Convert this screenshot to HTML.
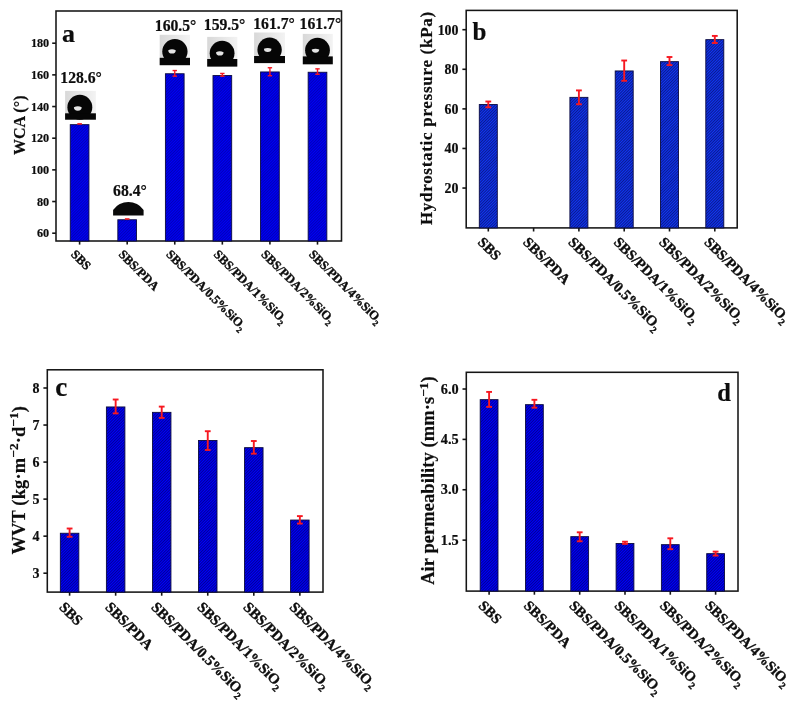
<!DOCTYPE html>
<html><head><meta charset="utf-8"><style>
html,body{margin:0;padding:0;background:#fff;width:795px;height:706px;overflow:hidden}
svg{display:block;will-change:transform}
text{font-family:"Liberation Serif", serif;font-weight:bold;fill:#0d0d0d;stroke:#0d0d0d;stroke-width:0.2px}
</style></head><body>
<svg width="795" height="706" viewBox="0 0 795 706">
<defs>
<pattern id="pa" patternUnits="userSpaceOnUse" width="2" height="2" patternTransform="rotate(45)"><rect width="2" height="2" fill="#0000f8"/><rect x="0" width="0.6" height="2" fill="#000090"/></pattern>
<pattern id="pb" patternUnits="userSpaceOnUse" width="2" height="2" patternTransform="rotate(45)"><rect width="2" height="2" fill="#1236f4"/><rect x="0" width="0.75" height="2" fill="#06126e"/></pattern>
<pattern id="pc" patternUnits="userSpaceOnUse" width="2" height="2" patternTransform="rotate(45)"><rect width="2" height="2" fill="#0000ff"/><rect x="0" width="0.7" height="2" fill="#000068"/></pattern>
<linearGradient id="gbg" x1="0" y1="0" x2="1" y2="0"><stop offset="0" stop-color="#d8d8d8"/><stop offset="1" stop-color="#f3f3f3"/></linearGradient>
<filter id="bl" x="-50%" y="-50%" width="200%" height="200%"><feGaussianBlur stdDeviation="0.6"/></filter><radialGradient id="hl"><stop offset="0" stop-color="#f0f0f0"/><stop offset="0.55" stop-color="#cccccc"/><stop offset="1" stop-color="#202020"/></radialGradient>
</defs>
<rect x="56" y="11" width="285.50" height="230.00" fill="none" stroke="#151515" stroke-width="1.55"/>
<line x1="52.2" y1="233.20" x2="56" y2="233.20" stroke="#151515" stroke-width="1.6"/>
<text x="49.2" y="237.20" font-size="12.2" text-anchor="end">60</text>
<line x1="52.2" y1="201.53" x2="56" y2="201.53" stroke="#151515" stroke-width="1.6"/>
<text x="49.2" y="205.53" font-size="12.2" text-anchor="end">80</text>
<line x1="52.2" y1="169.87" x2="56" y2="169.87" stroke="#151515" stroke-width="1.6"/>
<text x="49.2" y="173.87" font-size="12.2" text-anchor="end">100</text>
<line x1="52.2" y1="138.20" x2="56" y2="138.20" stroke="#151515" stroke-width="1.6"/>
<text x="49.2" y="142.20" font-size="12.2" text-anchor="end">120</text>
<line x1="52.2" y1="106.54" x2="56" y2="106.54" stroke="#151515" stroke-width="1.6"/>
<text x="49.2" y="110.54" font-size="12.2" text-anchor="end">140</text>
<line x1="52.2" y1="74.87" x2="56" y2="74.87" stroke="#151515" stroke-width="1.6"/>
<text x="49.2" y="78.87" font-size="12.2" text-anchor="end">160</text>
<line x1="52.2" y1="43.20" x2="56" y2="43.20" stroke="#151515" stroke-width="1.6"/>
<text x="49.2" y="47.20" font-size="12.2" text-anchor="end">180</text>
<line x1="79.60" y1="241" x2="79.60" y2="244.6" stroke="#151515" stroke-width="1.6"/>
<line x1="127.18" y1="241" x2="127.18" y2="244.6" stroke="#151515" stroke-width="1.6"/>
<line x1="174.76" y1="241" x2="174.76" y2="244.6" stroke="#151515" stroke-width="1.6"/>
<line x1="222.34" y1="241" x2="222.34" y2="244.6" stroke="#151515" stroke-width="1.6"/>
<line x1="269.92" y1="241" x2="269.92" y2="244.6" stroke="#151515" stroke-width="1.6"/>
<line x1="317.50" y1="241" x2="317.50" y2="244.6" stroke="#151515" stroke-width="1.6"/>
<rect x="70.25" y="124.65" width="18.7" height="116.35" fill="url(#pa)" stroke="#0a0a40" stroke-width="0.9"/>
<rect x="117.83" y="219.75" width="18.7" height="21.25" fill="url(#pa)" stroke="#0a0a40" stroke-width="0.9"/>
<rect x="165.41" y="73.75" width="18.7" height="167.25" fill="url(#pa)" stroke="#0a0a40" stroke-width="0.9"/>
<rect x="212.99" y="75.55" width="18.7" height="165.45" fill="url(#pa)" stroke="#0a0a40" stroke-width="0.9"/>
<rect x="260.57" y="71.95" width="18.7" height="169.05" fill="url(#pa)" stroke="#0a0a40" stroke-width="0.9"/>
<rect x="308.15" y="72.25" width="18.7" height="168.75" fill="url(#pa)" stroke="#0a0a40" stroke-width="0.9"/>
<rect x="77.30" y="123.10" width="4.6" height="1.6" fill="#f71820"/>
<rect x="124.88" y="218.20" width="4.6" height="1.6" fill="#f71820"/>
<g stroke="#f71820" stroke-width="1.4"><line x1="174.76" y1="70.55" x2="174.76" y2="76.15"/><line x1="172.56" y1="70.55" x2="176.96" y2="70.55"/><line x1="172.56" y1="76.15" x2="176.96" y2="76.15"/></g>
<g stroke="#f71820" stroke-width="1.4"><line x1="222.34" y1="73.45" x2="222.34" y2="76.15"/><line x1="220.14" y1="73.45" x2="224.54" y2="73.45"/><line x1="220.14" y1="76.15" x2="224.54" y2="76.15"/></g>
<g stroke="#f71820" stroke-width="1.4"><line x1="269.92" y1="67.75" x2="269.92" y2="75.75"/><line x1="267.72" y1="67.75" x2="272.12" y2="67.75"/><line x1="267.72" y1="75.75" x2="272.12" y2="75.75"/></g>
<g stroke="#f71820" stroke-width="1.4"><line x1="317.50" y1="68.85" x2="317.50" y2="74.25"/><line x1="315.30" y1="68.85" x2="319.70" y2="68.85"/><line x1="315.30" y1="74.25" x2="319.70" y2="74.25"/></g>
<text transform="translate(70.30,255.00) rotate(45)" font-size="12.5" style="stroke-width:0.38px">SBS</text>
<text transform="translate(117.88,255.00) rotate(45)" font-size="12.5" style="stroke-width:0.38px">SBS/PDA</text>
<text transform="translate(165.46,255.00) rotate(45)" font-size="12.5" style="stroke-width:0.38px">SBS/PDA/0.5%SiO<tspan font-size="0.68em" dy="0.42em">2</tspan></text>
<text transform="translate(213.04,255.00) rotate(45)" font-size="12.5" style="stroke-width:0.38px">SBS/PDA/1%SiO<tspan font-size="0.68em" dy="0.42em">2</tspan></text>
<text transform="translate(260.62,255.00) rotate(45)" font-size="12.5" style="stroke-width:0.38px">SBS/PDA/2%SiO<tspan font-size="0.68em" dy="0.42em">2</tspan></text>
<text transform="translate(308.20,255.00) rotate(45)" font-size="12.5" style="stroke-width:0.38px">SBS/PDA/4%SiO<tspan font-size="0.68em" dy="0.42em">2</tspan></text>
<text transform="translate(25.2,155) rotate(-90)" font-size="16" textLength="59.5" lengthAdjust="spacing">WCA (°)</text>
<text x="62" y="41.6" font-size="26">a</text>
<text x="60.3" y="82.9" font-size="15.7">128.6°</text>
<text x="113.1" y="195.8" font-size="15.7">68.4°</text>
<text x="154.8" y="31.1" font-size="15.7">160.5°</text>
<text x="203.8" y="29.7" font-size="15.7">159.5°</text>
<text x="253.2" y="28.8" font-size="15.7">161.7°</text>
<text x="299.6" y="28.8" font-size="15.7">161.7°</text>
<rect x="65.1" y="90.9" width="30.80" height="28.80" fill="url(#gbg)"/>
<circle cx="79.85" cy="107.3" r="12.45" fill="#060606"/>
<rect x="65.1" y="113.3" width="30.80" height="6.40" fill="#060606"/>
<path d="M73.90,107.25 Q77.80,105.25 81.70,107.25 A3.90,3.50 0 0 1 73.90,107.25 Z" fill="#e4e4e4" filter="url(#bl)"/>
<rect x="159.7" y="34.8" width="30.30" height="30.40" fill="url(#gbg)"/>
<circle cx="174.9" cy="51.6" r="12.65" fill="#060606"/>
<rect x="159.7" y="57.8" width="30.30" height="7.40" fill="#060606"/>
<path d="M168.25,50.20 Q172.00,48.28 175.75,50.20 A3.75,3.36 0 0 1 168.25,50.20 Z" fill="#e4e4e4" filter="url(#bl)"/>
<rect x="207.2" y="36.9" width="30.10" height="29.70" fill="url(#gbg)"/>
<circle cx="222.1" cy="53.2" r="12.4" fill="#060606"/>
<rect x="207.2" y="59" width="30.10" height="7.60" fill="#060606"/>
<path d="M216.05,52.20 Q219.80,50.28 223.55,52.20 A3.75,3.36 0 0 1 216.05,52.20 Z" fill="#e4e4e4" filter="url(#bl)"/>
<rect x="254.1" y="32.5" width="30.90" height="30.60" fill="url(#gbg)"/>
<circle cx="269.6" cy="49.8" r="12.2" fill="#060606"/>
<rect x="254.1" y="56" width="30.90" height="7.10" fill="#060606"/>
<path d="M263.95,48.85 Q267.70,47.01 271.45,48.85 A3.75,3.22 0 0 1 263.95,48.85 Z" fill="#e4e4e4" filter="url(#bl)"/>
<rect x="302.8" y="33.9" width="30.00" height="30.40" fill="url(#gbg)"/>
<circle cx="317.5" cy="50.2" r="12.4" fill="#060606"/>
<rect x="302.8" y="56.4" width="30.00" height="7.90" fill="#060606"/>
<path d="M311.75,49.60 Q315.50,47.84 319.25,49.60 A3.75,3.08 0 0 1 311.75,49.60 Z" fill="#e4e4e4" filter="url(#bl)"/>
<path d="M113.1,215.4 L113.1,209.9 A18.67,18.67 0 0 1 143.6,209.9 L143.6,215.4 Z" fill="#0a0a0a"/>
<rect x="466.2" y="10.4" width="271.00" height="217.50" fill="none" stroke="#151515" stroke-width="1.55"/>
<line x1="462.4" y1="188.05" x2="466.2" y2="188.05" stroke="#151515" stroke-width="1.6"/>
<text x="458.5" y="192.95" font-size="13.9" text-anchor="end">20</text>
<line x1="462.4" y1="148.46" x2="466.2" y2="148.46" stroke="#151515" stroke-width="1.6"/>
<text x="458.5" y="153.36" font-size="13.9" text-anchor="end">40</text>
<line x1="462.4" y1="108.88" x2="466.2" y2="108.88" stroke="#151515" stroke-width="1.6"/>
<text x="458.5" y="113.78" font-size="13.9" text-anchor="end">60</text>
<line x1="462.4" y1="69.29" x2="466.2" y2="69.29" stroke="#151515" stroke-width="1.6"/>
<text x="458.5" y="74.19" font-size="13.9" text-anchor="end">80</text>
<line x1="462.4" y1="29.70" x2="466.2" y2="29.70" stroke="#151515" stroke-width="1.6"/>
<text x="458.5" y="34.60" font-size="13.9" text-anchor="end">100</text>
<line x1="488.30" y1="227.9" x2="488.30" y2="231.5" stroke="#151515" stroke-width="1.6"/>
<line x1="533.60" y1="227.9" x2="533.60" y2="231.5" stroke="#151515" stroke-width="1.6"/>
<line x1="578.90" y1="227.9" x2="578.90" y2="231.5" stroke="#151515" stroke-width="1.6"/>
<line x1="624.20" y1="227.9" x2="624.20" y2="231.5" stroke="#151515" stroke-width="1.6"/>
<line x1="669.50" y1="227.9" x2="669.50" y2="231.5" stroke="#151515" stroke-width="1.6"/>
<line x1="714.80" y1="227.9" x2="714.80" y2="231.5" stroke="#151515" stroke-width="1.6"/>
<rect x="479.30" y="104.55" width="18.0" height="123.35" fill="url(#pb)" stroke="#0a0a40" stroke-width="0.9"/>
<rect x="569.90" y="97.35" width="18.0" height="130.55" fill="url(#pb)" stroke="#0a0a40" stroke-width="0.9"/>
<rect x="615.20" y="70.95" width="18.0" height="156.95" fill="url(#pb)" stroke="#0a0a40" stroke-width="0.9"/>
<rect x="660.50" y="61.65" width="18.0" height="166.25" fill="url(#pb)" stroke="#0a0a40" stroke-width="0.9"/>
<rect x="705.80" y="39.65" width="18.0" height="188.25" fill="url(#pb)" stroke="#0a0a40" stroke-width="0.9"/>
<g stroke="#f71820" stroke-width="1.9"><line x1="488.30" y1="101.51" x2="488.30" y2="107.29"/><line x1="485.40" y1="101.51" x2="491.20" y2="101.51"/><line x1="485.40" y1="107.29" x2="491.20" y2="107.29"/></g>
<g stroke="#f71820" stroke-width="1.9"><line x1="578.90" y1="90.41" x2="578.90" y2="104.29"/><line x1="576.00" y1="90.41" x2="581.80" y2="90.41"/><line x1="576.00" y1="104.29" x2="581.80" y2="104.29"/></g>
<g stroke="#f71820" stroke-width="1.9"><line x1="624.20" y1="60.51" x2="624.20" y2="80.79"/><line x1="621.30" y1="60.51" x2="627.10" y2="60.51"/><line x1="621.30" y1="80.79" x2="627.10" y2="80.79"/></g>
<g stroke="#f71820" stroke-width="1.9"><line x1="669.50" y1="57.01" x2="669.50" y2="65.09"/><line x1="666.60" y1="57.01" x2="672.40" y2="57.01"/><line x1="666.60" y1="65.09" x2="672.40" y2="65.09"/></g>
<g stroke="#f71820" stroke-width="1.9"><line x1="714.80" y1="35.91" x2="714.80" y2="42.99"/><line x1="711.90" y1="35.91" x2="717.70" y2="35.91"/><line x1="711.90" y1="42.99" x2="717.70" y2="42.99"/></g>
<text transform="translate(477.00,243.00) rotate(45)" font-size="14.5" style="stroke-width:0.38px">SBS</text>
<text transform="translate(522.30,243.00) rotate(45)" font-size="14.5" style="stroke-width:0.38px">SBS/PDA</text>
<text transform="translate(567.60,243.00) rotate(45)" font-size="14.5" style="stroke-width:0.38px">SBS/PDA/0.5%SiO<tspan font-size="0.68em" dy="0.42em">2</tspan></text>
<text transform="translate(612.90,243.00) rotate(45)" font-size="14.5" style="stroke-width:0.38px">SBS/PDA/1%SiO<tspan font-size="0.68em" dy="0.42em">2</tspan></text>
<text transform="translate(658.20,243.00) rotate(45)" font-size="14.5" style="stroke-width:0.38px">SBS/PDA/2%SiO<tspan font-size="0.68em" dy="0.42em">2</tspan></text>
<text transform="translate(703.50,243.00) rotate(45)" font-size="14.5" style="stroke-width:0.38px">SBS/PDA/4%SiO<tspan font-size="0.68em" dy="0.42em">2</tspan></text>
<text transform="translate(431.6,225.1) rotate(-90)" font-size="17" textLength="213.2" lengthAdjust="spacing">Hydrostatic pressure (kPa)</text>
<text x="472.5" y="39.8" font-size="25">b</text>
<rect x="47.3" y="369.8" width="275.70" height="222.30" fill="none" stroke="#151515" stroke-width="1.55"/>
<line x1="43.400000000000006" y1="573.20" x2="47.2" y2="573.20" stroke="#151515" stroke-width="1.6"/>
<text x="39.5" y="577.80" font-size="14" text-anchor="end">3</text>
<line x1="43.400000000000006" y1="536.16" x2="47.2" y2="536.16" stroke="#151515" stroke-width="1.6"/>
<text x="39.5" y="540.76" font-size="14" text-anchor="end">4</text>
<line x1="43.400000000000006" y1="499.12" x2="47.2" y2="499.12" stroke="#151515" stroke-width="1.6"/>
<text x="39.5" y="503.72" font-size="14" text-anchor="end">5</text>
<line x1="43.400000000000006" y1="462.08" x2="47.2" y2="462.08" stroke="#151515" stroke-width="1.6"/>
<text x="39.5" y="466.68" font-size="14" text-anchor="end">6</text>
<line x1="43.400000000000006" y1="425.04" x2="47.2" y2="425.04" stroke="#151515" stroke-width="1.6"/>
<text x="39.5" y="429.64" font-size="14" text-anchor="end">7</text>
<line x1="43.400000000000006" y1="388.00" x2="47.2" y2="388.00" stroke="#151515" stroke-width="1.6"/>
<text x="39.5" y="392.60" font-size="14" text-anchor="end">8</text>
<line x1="69.60" y1="592.1" x2="69.60" y2="595.7" stroke="#151515" stroke-width="1.6"/>
<line x1="115.65" y1="592.1" x2="115.65" y2="595.7" stroke="#151515" stroke-width="1.6"/>
<line x1="161.70" y1="592.1" x2="161.70" y2="595.7" stroke="#151515" stroke-width="1.6"/>
<line x1="207.75" y1="592.1" x2="207.75" y2="595.7" stroke="#151515" stroke-width="1.6"/>
<line x1="253.80" y1="592.1" x2="253.80" y2="595.7" stroke="#151515" stroke-width="1.6"/>
<line x1="299.85" y1="592.1" x2="299.85" y2="595.7" stroke="#151515" stroke-width="1.6"/>
<rect x="60.35" y="533.25" width="18.5" height="58.85" fill="url(#pc)" stroke="#0a0a40" stroke-width="0.9"/>
<rect x="106.40" y="406.95" width="18.5" height="185.15" fill="url(#pc)" stroke="#0a0a40" stroke-width="0.9"/>
<rect x="152.45" y="412.35" width="18.5" height="179.75" fill="url(#pc)" stroke="#0a0a40" stroke-width="0.9"/>
<rect x="198.50" y="440.45" width="18.5" height="151.65" fill="url(#pc)" stroke="#0a0a40" stroke-width="0.9"/>
<rect x="244.55" y="447.65" width="18.5" height="144.45" fill="url(#pc)" stroke="#0a0a40" stroke-width="0.9"/>
<rect x="290.60" y="520.05" width="18.5" height="72.05" fill="url(#pc)" stroke="#0a0a40" stroke-width="0.9"/>
<g stroke="#f71820" stroke-width="1.9"><line x1="69.60" y1="528.51" x2="69.60" y2="536.79"/><line x1="66.70" y1="528.51" x2="72.50" y2="528.51"/><line x1="66.70" y1="536.79" x2="72.50" y2="536.79"/></g>
<g stroke="#f71820" stroke-width="1.9"><line x1="115.65" y1="399.51" x2="115.65" y2="413.39"/><line x1="112.75" y1="399.51" x2="118.55" y2="399.51"/><line x1="112.75" y1="413.39" x2="118.55" y2="413.39"/></g>
<g stroke="#f71820" stroke-width="1.9"><line x1="161.70" y1="406.61" x2="161.70" y2="417.89"/><line x1="158.80" y1="406.61" x2="164.60" y2="406.61"/><line x1="158.80" y1="417.89" x2="164.60" y2="417.89"/></g>
<g stroke="#f71820" stroke-width="1.9"><line x1="207.75" y1="431.21" x2="207.75" y2="449.99"/><line x1="204.85" y1="431.21" x2="210.65" y2="431.21"/><line x1="204.85" y1="449.99" x2="210.65" y2="449.99"/></g>
<g stroke="#f71820" stroke-width="1.9"><line x1="253.80" y1="441.01" x2="253.80" y2="453.69"/><line x1="250.90" y1="441.01" x2="256.70" y2="441.01"/><line x1="250.90" y1="453.69" x2="256.70" y2="453.69"/></g>
<g stroke="#f71820" stroke-width="1.9"><line x1="299.85" y1="516.11" x2="299.85" y2="523.59"/><line x1="296.95" y1="516.11" x2="302.75" y2="516.11"/><line x1="296.95" y1="523.59" x2="302.75" y2="523.59"/></g>
<text transform="translate(58.40,607.90) rotate(45)" font-size="14.7" style="stroke-width:0.38px">SBS</text>
<text transform="translate(104.45,607.90) rotate(45)" font-size="14.7" style="stroke-width:0.38px">SBS/PDA</text>
<text transform="translate(150.50,607.90) rotate(45)" font-size="14.7" style="stroke-width:0.38px">SBS/PDA/0.5%SiO<tspan font-size="0.68em" dy="0.42em">2</tspan></text>
<text transform="translate(196.55,607.90) rotate(45)" font-size="14.7" style="stroke-width:0.38px">SBS/PDA/1%SiO<tspan font-size="0.68em" dy="0.42em">2</tspan></text>
<text transform="translate(242.60,607.90) rotate(45)" font-size="14.7" style="stroke-width:0.38px">SBS/PDA/2%SiO<tspan font-size="0.68em" dy="0.42em">2</tspan></text>
<text transform="translate(288.65,607.90) rotate(45)" font-size="14.7" style="stroke-width:0.38px">SBS/PDA/4%SiO<tspan font-size="0.68em" dy="0.42em">2</tspan></text>
<text transform="translate(24.6,554.5) rotate(-90)" font-size="18.4" textLength="148.5" lengthAdjust="spacing">WVT (kg·m<tspan font-size="0.72em" dy="-0.48em">−2</tspan><tspan dy="0.3456em">·d</tspan><tspan font-size="0.72em" dy="-0.48em">−1</tspan><tspan dy="0.3456em">)</tspan></text>
<text x="55.3" y="396.3" font-size="27">c</text>
<rect x="466.3" y="372.3" width="271.70" height="218.80" fill="none" stroke="#151515" stroke-width="1.55"/>
<line x1="462.5" y1="540.13" x2="466.3" y2="540.13" stroke="#151515" stroke-width="1.6"/>
<text x="458.7" y="544.83" font-size="14.3" text-anchor="end">1.5</text>
<line x1="462.5" y1="489.76" x2="466.3" y2="489.76" stroke="#151515" stroke-width="1.6"/>
<text x="458.7" y="494.46" font-size="14.3" text-anchor="end">3.0</text>
<line x1="462.5" y1="439.39" x2="466.3" y2="439.39" stroke="#151515" stroke-width="1.6"/>
<text x="458.7" y="444.09" font-size="14.3" text-anchor="end">4.5</text>
<line x1="462.5" y1="389.02" x2="466.3" y2="389.02" stroke="#151515" stroke-width="1.6"/>
<text x="458.7" y="393.72" font-size="14.3" text-anchor="end">6.0</text>
<line x1="489.10" y1="591.1" x2="489.10" y2="594.7" stroke="#151515" stroke-width="1.6"/>
<line x1="534.40" y1="591.1" x2="534.40" y2="594.7" stroke="#151515" stroke-width="1.6"/>
<line x1="579.70" y1="591.1" x2="579.70" y2="594.7" stroke="#151515" stroke-width="1.6"/>
<line x1="625.00" y1="591.1" x2="625.00" y2="594.7" stroke="#151515" stroke-width="1.6"/>
<line x1="670.30" y1="591.1" x2="670.30" y2="594.7" stroke="#151515" stroke-width="1.6"/>
<line x1="715.60" y1="591.1" x2="715.60" y2="594.7" stroke="#151515" stroke-width="1.6"/>
<rect x="480.20" y="399.65" width="17.8" height="191.45" fill="url(#pc)" stroke="#0a0a40" stroke-width="0.9"/>
<rect x="525.50" y="404.65" width="17.8" height="186.45" fill="url(#pc)" stroke="#0a0a40" stroke-width="0.9"/>
<rect x="570.80" y="536.65" width="17.8" height="54.45" fill="url(#pc)" stroke="#0a0a40" stroke-width="0.9"/>
<rect x="616.10" y="543.45" width="17.8" height="47.65" fill="url(#pc)" stroke="#0a0a40" stroke-width="0.9"/>
<rect x="661.40" y="544.65" width="17.8" height="46.45" fill="url(#pc)" stroke="#0a0a40" stroke-width="0.9"/>
<rect x="706.70" y="553.65" width="17.8" height="37.45" fill="url(#pc)" stroke="#0a0a40" stroke-width="0.9"/>
<g stroke="#f71820" stroke-width="1.9"><line x1="489.10" y1="391.91" x2="489.10" y2="406.89"/><line x1="486.20" y1="391.91" x2="492.00" y2="391.91"/><line x1="486.20" y1="406.89" x2="492.00" y2="406.89"/></g>
<g stroke="#f71820" stroke-width="1.9"><line x1="534.40" y1="399.81" x2="534.40" y2="407.69"/><line x1="531.50" y1="399.81" x2="537.30" y2="399.81"/><line x1="531.50" y1="407.69" x2="537.30" y2="407.69"/></g>
<g stroke="#f71820" stroke-width="1.9"><line x1="579.70" y1="532.31" x2="579.70" y2="541.29"/><line x1="576.80" y1="532.31" x2="582.60" y2="532.31"/><line x1="576.80" y1="541.29" x2="582.60" y2="541.29"/></g>
<g stroke="#f71820" stroke-width="1.9"><line x1="625.00" y1="541.71" x2="625.00" y2="543.89"/><line x1="622.10" y1="541.71" x2="627.90" y2="541.71"/><line x1="622.10" y1="543.89" x2="627.90" y2="543.89"/></g>
<g stroke="#f71820" stroke-width="1.9"><line x1="670.30" y1="538.31" x2="670.30" y2="549.19"/><line x1="667.40" y1="538.31" x2="673.20" y2="538.31"/><line x1="667.40" y1="549.19" x2="673.20" y2="549.19"/></g>
<g stroke="#f71820" stroke-width="1.9"><line x1="715.60" y1="551.61" x2="715.60" y2="555.59"/><line x1="712.70" y1="551.61" x2="718.50" y2="551.61"/><line x1="712.70" y1="555.59" x2="718.50" y2="555.59"/></g>
<text transform="translate(477.80,606.40) rotate(45)" font-size="14.5" style="stroke-width:0.38px">SBS</text>
<text transform="translate(523.10,606.40) rotate(45)" font-size="14.5" style="stroke-width:0.38px">SBS/PDA</text>
<text transform="translate(568.40,606.40) rotate(45)" font-size="14.5" style="stroke-width:0.38px">SBS/PDA/0.5%SiO<tspan font-size="0.68em" dy="0.42em">2</tspan></text>
<text transform="translate(613.70,606.40) rotate(45)" font-size="14.5" style="stroke-width:0.38px">SBS/PDA/1%SiO<tspan font-size="0.68em" dy="0.42em">2</tspan></text>
<text transform="translate(659.00,606.40) rotate(45)" font-size="14.5" style="stroke-width:0.38px">SBS/PDA/2%SiO<tspan font-size="0.68em" dy="0.42em">2</tspan></text>
<text transform="translate(704.30,606.40) rotate(45)" font-size="14.5" style="stroke-width:0.38px">SBS/PDA/4%SiO<tspan font-size="0.68em" dy="0.42em">2</tspan></text>
<text transform="translate(434.2,584.8) rotate(-90)" font-size="18.5" textLength="208.5" lengthAdjust="spacing">Air permeability (mm·s<tspan font-size="0.72em" dy="-0.48em">−1</tspan><tspan dy="0.3456em">)</tspan></text>
<text x="717.2" y="401" font-size="24.5">d</text>
</svg></body></html>
